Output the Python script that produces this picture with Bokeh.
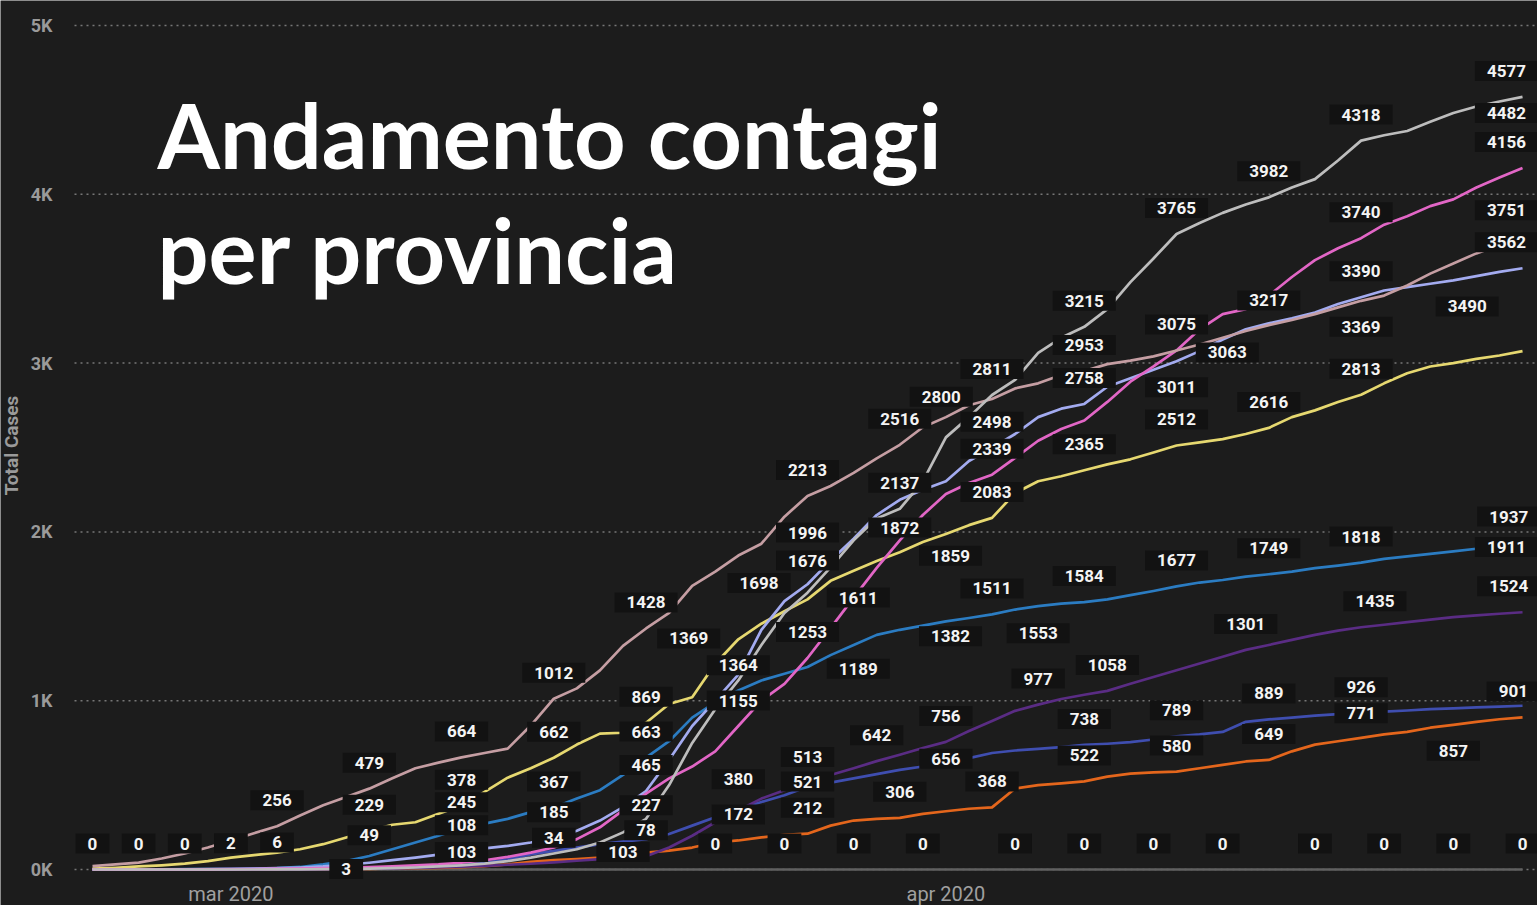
import pandas as pd
from math import pi
from bokeh.plotting import figure
from bokeh.models import ColumnDataSource, Label, Range1d
from bokeh.core.properties import value
from bokeh.embed import file_html
from bokeh.resources import INLINE

# ---------------- data ----------------
dates = pd.date_range("2020-02-24", "2020-04-26", freq="D")

piacenza = [20, 30, 41, 65, 95, 130, 172, 215, 256, 320,
            380, 430, 479, 540, 600, 633, 664, 690, 716, 853,
            1012, 1073, 1180, 1325, 1428, 1520, 1680, 1765, 1860, 1930,
            2090, 2213, 2272, 2350, 2436, 2516, 2620, 2680, 2750, 2787,
            2850, 2880, 2930, 2953, 2994, 3015, 3040, 3075, 3110, 3150,
            3190, 3225, 3255, 3290, 3330, 3369, 3400, 3460, 3530, 3590,
            3650, 3700, 3751]
reggio = [0, 0, 0, 0, 0, 0, 0, 0, 1, 1,
          2, 3, 5, 8, 12, 18, 25, 35, 50, 70,
          95, 120, 160, 220, 300, 500, 750, 950, 1120, 1330,
          1520, 1640, 1790, 1950, 2080, 2137, 2300, 2560, 2680, 2811,
          2900, 3060, 3150, 3215, 3320, 3480, 3620, 3765, 3830, 3890,
          3940, 3982, 4040, 4090, 4200, 4318, 4350, 4375, 4430, 4482,
          4520, 4550, 4577]
modena = [0, 0, 0, 0, 1, 2, 3, 5, 8, 12,
          18, 28, 40, 55, 70, 88, 108, 125, 140, 160,
          185, 230, 290, 370, 465, 650, 850, 1000, 1155, 1420,
          1590, 1690, 1830, 1960, 2100, 2190, 2250, 2300, 2420, 2498,
          2580, 2680, 2730, 2758, 2860, 2910, 2960, 3011, 3071, 3140,
          3200, 3235, 3265, 3300, 3350, 3390, 3430, 3450, 3470, 3490,
          3515, 3540, 3562]
bologna = [0, 0, 0, 0, 0, 1, 2, 3, 4, 6,
           8, 10, 14, 18, 24, 30, 40, 55, 75, 100,
           130, 180, 250, 350, 450, 540, 610, 700, 850, 1000,
           1100, 1253, 1430, 1611, 1787, 1950, 2100, 2225, 2290, 2339,
           2438, 2540, 2610, 2660, 2770, 2890, 2980, 3075, 3200, 3290,
           3320, 3400, 3510, 3610, 3680, 3740, 3820, 3870, 3930, 3970,
           4040, 4100, 4156]
parma = [5, 10, 18, 25, 35, 50, 70, 85, 100, 120,
         150, 190, 229, 265, 280, 330, 378, 460, 544, 600,
         662, 740, 805, 810, 869, 980, 1020, 1219, 1364, 1456,
         1530, 1600, 1710, 1770, 1828, 1880, 1940, 1988, 2040, 2083,
         2230, 2300, 2330, 2365, 2400, 2430, 2470, 2512, 2530, 2550,
         2580, 2616, 2680, 2720, 2770, 2813, 2880, 2940, 2980, 3000,
         3025, 3045, 3071]
rimini = [0, 0, 0, 1, 2, 3, 4, 6, 8, 15,
          30, 50, 80, 120, 160, 200, 245, 272, 300, 340,
          367, 420, 470, 560, 663, 760, 900, 990, 1060, 1120,
          1160, 1200, 1270, 1330, 1390, 1420, 1445, 1470, 1490, 1511,
          1540, 1560, 1575, 1584, 1600, 1625, 1650, 1677, 1700, 1715,
          1735, 1749, 1765, 1785, 1800, 1818, 1840, 1855, 1870, 1885,
          1900, 1911, 1937]
forli = [0, 0, 0, 0, 0, 0, 0, 0, 1, 1,
         2, 3, 5, 7, 10, 13, 17, 22, 28, 34,
         42, 52, 62, 70, 78, 130, 200, 280, 350, 420,
         470, 513, 560, 600, 642, 680, 720, 756, 820, 880,
         940, 977, 1010, 1035, 1058, 1100, 1140, 1180, 1220, 1260,
         1301, 1330, 1360, 1390, 1415, 1435, 1450, 1465, 1480, 1495,
         1505, 1515, 1524]
ravenna = [0, 0, 0, 0, 0, 0, 1, 1, 2, 2,
           3, 3, 5, 8, 12, 18, 25, 40, 60, 90,
           110, 130, 150, 165, 180, 210, 260, 310, 360, 400,
           440, 490, 515, 540, 565, 590, 610, 630, 660, 690,
           705, 715, 725, 738, 745, 755, 770, 789, 800, 815,
           875, 889, 900, 912, 920, 926, 935, 942, 950, 955,
           960, 965, 970]
ferrara = [0, 0, 0, 0, 0, 0, 1, 1, 1, 2,
           2, 3, 4, 6, 8, 10, 14, 20, 30, 45,
           55, 62, 71, 90, 100, 112, 130, 160, 172, 190,
           205, 212, 260, 290, 300, 306, 330, 345, 360, 368,
           480, 500, 510, 522, 550, 568, 575, 580, 600, 620,
           640, 649, 700, 740, 760, 780, 800, 815, 840, 857,
           875, 890, 901]
in_aggiornamento = [0] * 63

# data labels: day index, value, position (a = above, c = centre, b = below)
lab_day = [0, 2, 4, 6, 8, 8,
           12, 12, 12, 11,
           16, 16, 16, 16, 16,
           20, 20, 20, 20, 20,
           24, 24, 24, 24, 24, 24, 23,
           25.85, 28.9, 28, 28, 28, 28, 27,
           31, 31, 31, 31, 31, 31, 31, 30,
           33.2, 33.2,
           35, 35, 35, 34, 35, 33,
           36.8, 37.2, 37.2, 37, 37, 36,
           39, 39, 39, 39, 39, 39, 40,
           41, 41, 43, 44,
           43, 43, 43, 43, 43, 43, 43,
           47, 47, 47, 47, 47, 47, 47, 46,
           51, 51, 49.2, 51, 51, 50, 51, 51, 49,
           55, 55, 55, 55, 55, 55, 55.6, 55, 55, 53, 56,
           59.6, 59, 59,
           61.3, 61.3, 61.3, 61.3, 61.3, 61.4, 61.3, 61.4, 61.6, 62]
lab_val = [0, 0, 0, 2, 6, 256,
           479, 229, 49, 3,
           664, 378, 245, 108, 103,
           1012, 662, 367, 185, 34,
           1428, 869, 663, 465, 227, 78, 103,
           1369, 1698, 1364, 1155, 380, 172, 0,
           2213, 1996, 1676, 1253, 513, 521, 212, 0,
           1611, 1189,
           2516, 2137, 1872, 642, 306, 0,
           2800, 1859, 1382, 756, 656, 0,
           2811, 2498, 2339, 2083, 1511, 368, 0,
           977, 1553, 1584, 1058,
           3215, 2953, 2758, 2365, 738, 522, 0,
           3765, 3075, 3011, 2512, 1677, 789, 580, 0,
           3982, 3217, 3063, 2616, 1749, 1301, 889, 649, 0,
           4318, 3740, 3390, 3369, 2813, 1818, 1435, 926, 771, 0, 0,
           3490, 857, 0,
           4577, 4482, 4156, 3751, 3562, 1937, 1911, 1524, 901, 0]
lab_pos = ["a", "a", "a", "a", "a", "a",
           "a", "a", "a", "c",
           "a", "a", "a", "a", "c",
           "a", "a", "a", "a", "a",
           "a", "a", "a", "a", "a", "a", "c",
           "c", "c", "b", "b", "a", "a", "a",
           "a", "c", "a", "a", "a", "c", "a", "a",
           "c", "c",
           "a", "a", "a", "a", "a", "a",
           "c", "c", "c", "a", "c", "a",
           "a", "a", "a", "a", "a", "a", "a",
           "a", "b", "a", "a",
           "a", "a", "a", "a", "a", "a", "a",
           "a", "a", "b", "a", "a", "a", "a", "a",
           "a", "a", "c", "a", "a", "a", "a", "a", "a",
           "a", "a", "a", "b", "a", "a", "a", "a", "a", "a", "a",
           "b", "b", "a",
           "a", "c", "a", "a", "a", "a", "c", "a", "a", "a"]

y_ticks = [0, 1000, 2000, 3000, 4000, 5000]

# ---------------- layout (page pixels) ----------------
W, H = 1537, 905
PX_DAY = 23.065
PX_UNIT = 0.1688
X0_PX = 92
Y0_PX = 869

def dx(px):
    return (px - X0_PX) / PX_DAY

def dy(py):
    return (Y0_PX - py) / PX_UNIT

BG = "#1c1c1c"
day_index = [(d - dates[0]).days for d in dates]

# the frame covers the whole canvas; tick texts are drawn inside it
p = figure(width=W, height=H, output_backend="svg", toolbar_location=None,
           x_range=Range1d(dx(0), dx(W)), y_range=Range1d(dy(H), dy(0)),
           x_axis_location=None, y_axis_location=None, title=None,
           min_border_left=0, min_border_right=0,
           min_border_top=0, min_border_bottom=0)
p.background_fill_color = BG
p.border_fill_color = BG
p.outline_line_color = None
p.xgrid.visible = False
p.ygrid.visible = False

# dotted horizontal grid, starting right of the tick labels
p.segment(x0=[dx(74)] * len(y_ticks), x1=[dx(W)] * len(y_ticks),
          y0=y_ticks, y1=y_ticks, line_color="#767676",
          line_dash="2 4", line_width=1.5)

# y tick labels
p.text([dx(52)] * len(y_ticks), y_ticks, text=[f"{t // 1000}K" for t in y_ticks],
       text_font=value("Roboto"), text_font_style="bold", text_font_size="18px",
       text_color="#9a9a9a", text_align="right", text_baseline="middle")

series = [
    (in_aggiornamento, "#606060"),
    (ferrara, "#e4661c"),
    (ravenna, "#3f4eb0"),
    (forli, "#5a2c84"),
    (rimini, "#2b7cc2"),
    (parma, "#e6d870"),
    (modena, "#a3abf0"),
    (bologna, "#e266c6"),
    (piacenza, "#c59ea3"),
    (reggio, "#bdbdbd"),
]
for vals, col in series:
    p.line(day_index, vals, line_color=col, line_width=2.7, line_join="round")

# month labels on the time axis
month_days = [day_index[i] for i, d in enumerate(dates) if d.day == 1]
month_text = [("mar" if d.month == 3 else "apr") + " 2020" for d in dates if d.day == 1]
p.text(month_days, [dy(893)] * len(month_days), text=month_text,
       text_font=value("Roboto"), text_font_size="20px", text_color="#a0a0a0",
       text_align="center", text_baseline="middle")

OFF = {"a": -26, "c": 0, "b": 26}
lab_src = ColumnDataSource(dict(x=lab_day, y=lab_val,
                                t=[str(v) for v in lab_val],
                                off=[OFF[k] for k in lab_pos]))
p.text("x", "y", text="t", y_offset="off", source=lab_src,
       text_font=value("Roboto"), text_font_style="bold", text_font_size="17px",
       text_color="#f4f4f4", text_align="center", text_baseline="middle",
       background_fill_color="#121212", background_fill_alpha=1.0,
       padding=(12, 4))

p.add_layout(Label(x=dx(11), y=dy(445), text="Total Cases", angle=pi / 2,
                   text_align="center", text_baseline="middle",
                   text_font="Roboto", text_font_style="bold",
                   text_font_size="19px", text_color="#9a9a9a"))

for txt, base in (("Andamento contagi", 133), ("per provincia", 248)):
    p.add_layout(Label(x=dx(157), y=dy(base), text=txt,
                       text_font="Lato", text_font_style="bold",
                       text_font_size="90px", text_color="#ffffff",
                       text_baseline="alphabetic", text_align="left"))

open("out.html", "w").write(file_html(p, INLINE))
